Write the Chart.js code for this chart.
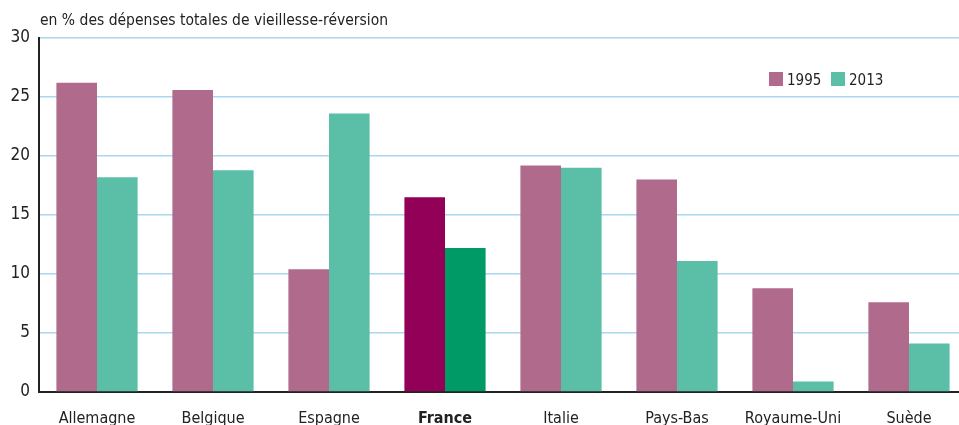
<!DOCTYPE html>
<html>
<head>
<meta charset="utf-8">
<script src="https://cdn.jsdelivr.net/npm/chart.js@4/dist/chart.umd.min.js"></script>
<style>
  html, body { margin: 0; padding: 0; background: #fff; overflow: hidden; }
  #wrap { width: 967px; height: 425px; position: relative; }
</style>
</head>
<body>
<div id="wrap"><canvas id="c"></canvas></div>
<script>
const countries = ['Allemagne', 'Belgique', 'Espagne', 'France', 'Italie', 'Pays-Bas', 'Royaume-Uni', 'Suède'];
const values1995 = [26.2, 25.6, 10.4, 16.5, 19.2, 18.0, 8.8, 7.6];
const values2013 = [18.2, 18.8, 23.6, 12.2, 19.0, 11.1, 0.9, 4.1];
const seriesLabels = ['1995', '2013'];
const yTicks = [0, 5, 10, 15, 20, 25, 30];
const unitLabel = 'en % des dépenses totales de vieillesse-réversion';

const FONT = '"DejaVu Sans Condensed", "Liberation Sans", Arial, sans-serif';
const pink = '#af6a8c', pinkFr = '#930057';
const green = '#5bbfa8', greenFr = '#009a66';

const colorsFor = (base, hi) => countries.map(c => c === 'France' ? hi : base);

const extras = {
  id: 'extras',
  afterDraw(chart) {
    const ctx = chart.ctx;
    const area = chart.chartArea;
    ctx.save();
    ctx.fillStyle = '#222';
    ctx.font = '15.5px ' + FONT;
    ctx.textBaseline = 'alphabetic';
    ctx.textAlign = 'left';
    ctx.fillText(unitLabel, area.left + 1, 25);
    // legend
    const items = [[seriesLabels[0], pink, 769], [seriesLabels[1], green, 831]];
    items.forEach(([txt, col, x]) => {
      ctx.fillStyle = col;
      ctx.fillRect(x, 72, 14, 14);
      ctx.fillStyle = '#222';
      ctx.font = '15px ' + FONT;
      ctx.fillText(txt, x + 18, 85);
    });
    ctx.restore();
  }
};

new Chart(document.getElementById('c'), {
  type: 'bar',
  data: {
    labels: countries,
    datasets: [
      { label: seriesLabels[0], data: values1995, backgroundColor: colorsFor(pink, pinkFr), borderWidth: 0 },
      { label: seriesLabels[1], data: values2013, backgroundColor: colorsFor(green, greenFr), borderWidth: 0 },
    ],
  },
  options: {
    responsive: true,
    maintainAspectRatio: false,
    animation: false,
    layout: { padding: { top: 38, left: 0, right: 0, bottom: 0 } },
    datasets: { bar: { barPercentage: 1, categoryPercentage: 0.7 } },
    scales: {
      x: {
        grid: { display: false, drawTicks: false },
        border: { color: '#222', width: 2 },
        ticks: {
          padding: 17,
          color: '#222',
          font: (ctx) => ({
            family: FONT,
            size: 16,
            weight: countries[ctx.index] === 'France' ? 'bold' : 'normal',
          }),
        },
        afterFit(scale) { scale.height = 33; },
      },
      y: {
        min: 0,
        max: 30,
        afterBuildTicks(scale) { scale.ticks = yTicks.map(v => ({ value: v })); },
        grid: { color: '#a9d8f0', lineWidth: 1.5, drawTicks: false },
        border: { color: '#222', width: 2 },
        ticks: { padding: 9, color: '#222', font: { family: FONT, size: 17 } },
        afterFit(scale) { scale.width = 39; },
      },
    },
    plugins: {
      legend: { display: false },
      tooltip: { enabled: false },
    },
  },
  plugins: [extras],
});
</script>
</body>
</html>
